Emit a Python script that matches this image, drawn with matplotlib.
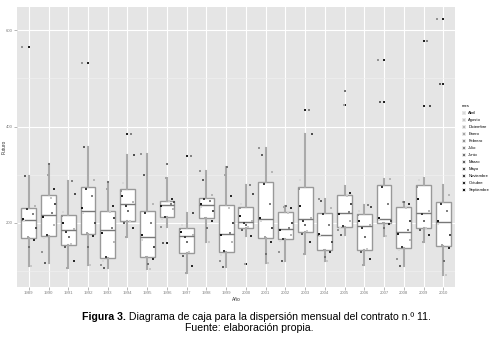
import numpy as np
import matplotlib
matplotlib.use("Agg")
import matplotlib.pyplot as plt
from matplotlib.lines import Line2D
from matplotlib.patches import Patch

years = list(range(1989, 2011))

# box statistics per year
wlo = [111, 116, 106, 113, 106, 170, 104, 191, 96, 160, 109, 173, 116, 120, 135, 121, 175, 113, 172, 111, 161, 92]
q1 = [168, 172, 155, 177, 127, 204, 129, 212, 137, 210, 139, 190, 168, 166, 182, 143, 192, 144, 199, 148, 189, 152]
med = [206, 216, 185, 225, 185, 239, 170, 237, 172, 237, 177, 202, 208, 188, 208, 174, 220, 193, 208, 182, 221, 201]
q3 = [230, 257, 216, 274, 225, 270, 224, 246, 190, 252, 238, 233, 286, 223, 275, 221, 257, 218, 279, 234, 278, 244]
whi = [297, 322, 288, 357, 284, 342, 343, 294, 220, 308, 317, 279, 356, 235, 384, 249, 277, 237, 291, 244, 294, 279]

# monthly values per year (1989..2010)
abril = [203, 168, 222, 220, 122, 282, 165, 208, 196, 234, 134, 240, 205, 162, 290, 172, 190, 225, 206, 144, 290, 198]
agosto = [111, 252, 157, 113, 222, 205, 104, 245, 139, 160, 232, 191, 116, 220, 183, 121, 255, 146, 172, 230, 190, 92]
diciembre = [236, 195, 188, 290, 160, 243, 240, 228, 174, 258, 160, 204, 305, 175, 211, 230, 205, 196, 291, 165, 224, 258]
enero = [170, 300, 106, 180, 270, 170, 130, 294, 96, 211, 300, 114, 171, 234, 135, 144, 445, 113, 200, 244, 161, 154]
febrero = [566, 140, 214, 532, 112, 266, 343, 191, 188, 308, 120, 230, 356, 140, 270, 249, 185, 216, 538, 125, 275, 623]
julio = [218, 220, 288, 255, 190, 384, 200, 239, 339, 246, 179, 279, 240, 190, 434, 195, 222, 237, 240, 186, 578, 225]
junio = [150, 322, 170, 150, 284, 225, 115, 322, 160, 190, 317, 196, 135, 235, 195, 130, 474, 170, 190, 244, 205, 120]
marzo = [297, 116, 150, 357, 106, 200, 300, 158, 132, 290, 109, 186, 340, 120, 178, 245, 175, 140, 451, 111, 186, 488]
mayo = [190, 240, 260, 200, 210, 342, 150, 243, 220, 225, 200, 260, 190, 200, 384, 160, 240, 233, 204, 205, 443, 175]
noviembre = [228, 174, 182, 270, 130, 235, 220, 213, 170, 250, 141, 200, 280, 167, 205, 218, 193, 190, 275, 150, 218, 240]
octubre = [165, 270, 120, 172, 235, 190, 125, 250, 110, 205, 255, 173, 160, 232, 160, 140, 263, 125, 197, 240, 175, 148]
septiembre = [209, 212, 200, 230, 180, 255, 175, 235, 182, 240, 175, 215, 211, 186, 235, 176, 218, 205, 210, 178, 250, 204]

meses = ["Abril", "Agosto", "Diciembre", "Enero", "Febrero", "Julio", "Junio",
         "Marzo", "Mayo", "Noviembre", "Octubre", "Septiembre"]
series = [abril, agosto, diciembre, enero, febrero, julio, junio,
          marzo, mayo, noviembre, octubre, septiembre]

plt.rcParams['font.family'] = ['Liberation Sans', 'DejaVu Sans']

fig = plt.figure(figsize=(4.99, 3.39), dpi=100)
ax = fig.add_axes([0.034, 0.1534, 0.878, 0.8256])
ax.set_facecolor('#E5E5E5')

pos = np.arange(1, len(years) + 1)
allvals = np.array(series)
stats = []
for i in range(len(years)):
    col = allvals[:, i]
    fl = col[(col > whi[i]) | (col < wlo[i])]
    stats.append(dict(whislo=wlo[i], q1=q1[i], med=med[i], q3=q3[i],
                      whishi=whi[i], fliers=fl))

ax.bxp(stats, positions=pos, widths=0.75, patch_artist=True, showcaps=False,
       boxprops=dict(facecolor='white', edgecolor='#999999', linewidth=1.0),
       whiskerprops=dict(color='#aaaaaa', linewidth=1.5),
       medianprops=dict(color='#777777', linewidth=1.0),
       flierprops=dict(marker='s', markersize=2.0, markerfacecolor='#222222',
                       markeredgewidth=0),
       zorder=2)

# jitter offsets (fixed pattern per month)
jit = [-0.25, 0.12, 0.3, -0.05, -0.32, 0.2, 0.02, -0.18, 0.34, -0.1, 0.27, -0.28]
greys = np.linspace(0.85, 0.1, len(meses))
handles = []
for k, (m, vals) in enumerate(zip(meses, series)):
    c = (greys[k],) * 3
    ax.scatter(pos + jit[k], vals, s=3.0, marker='s', color=c, linewidths=0, zorder=3)
    dot = Line2D([], [], marker='s', linestyle='none', markersize=1.5,
                 markerfacecolor=c, markeredgewidth=0)
    key = Patch(facecolor='#E8E8E8', edgecolor='none')
    handles.append((key, dot))

ax.set_xlim(0.4, len(years) + 0.6)
ax.set_ylim(67, 648)
ax.set_xticks(pos)
ax.set_xticklabels([str(y) for y in years])
ax.set_yticks([200, 400, 600])
ax.set_yticks([100, 300, 500], minor=True)
ax.grid(True, which='major', color='white', linewidth=0.8, zorder=0)
ax.grid(True, which='minor', axis='y', color='#F2F2F2', linewidth=0.4, zorder=0)
ax.set_axisbelow(True)
for s in ax.spines.values():
    s.set_visible(False)
ax.tick_params(axis='both', which='major', labelsize=3.1, colors='#7f7f7f',
               length=2, width=0.4, pad=1)
ax.tick_params(axis='y', which='minor', length=0)
ax.set_xlabel("Año", fontsize=3.5, labelpad=1, color='#333333')
ax.set_ylabel("Futuro", fontsize=3.5, color='#333333')
ax.yaxis.set_label_coords(-0.029, 0.5)
ax.yaxis.label.set_verticalalignment('center')

leg = fig.legend(handles=handles, labels=meses, title="mes", loc='upper left',
                 bbox_to_anchor=(0.922, 0.697), frameon=False, fontsize=3.0,
                 title_fontsize=3.1, handlelength=1.1, handleheight=1.1,
                 handletextpad=0.5, labelspacing=0.62, borderaxespad=0)
leg._legend_box.align = "left"

cap_font = ['Liberation Sans Narrow', 'Liberation Sans', 'DejaVu Sans']
t1 = fig.text(82 / 499, 1 - 320 / 339, "Figura 3.", fontsize=7.6,
              weight='bold', family=cap_font, va='baseline')
ax.annotate(" Diagrama de caja para la dispersión mensual del contrato n.º 11.",
            xy=(1, 0), xycoords=t1, va='bottom', fontsize=7.6, family=cap_font,
            annotation_clip=False)
fig.text(0.5, 1 - 328 / 339, "Fuente: elaboración propia.", fontsize=7.6,
         family=cap_font, ha='center', va='center')

fig.savefig("out.png", dpi=100)
